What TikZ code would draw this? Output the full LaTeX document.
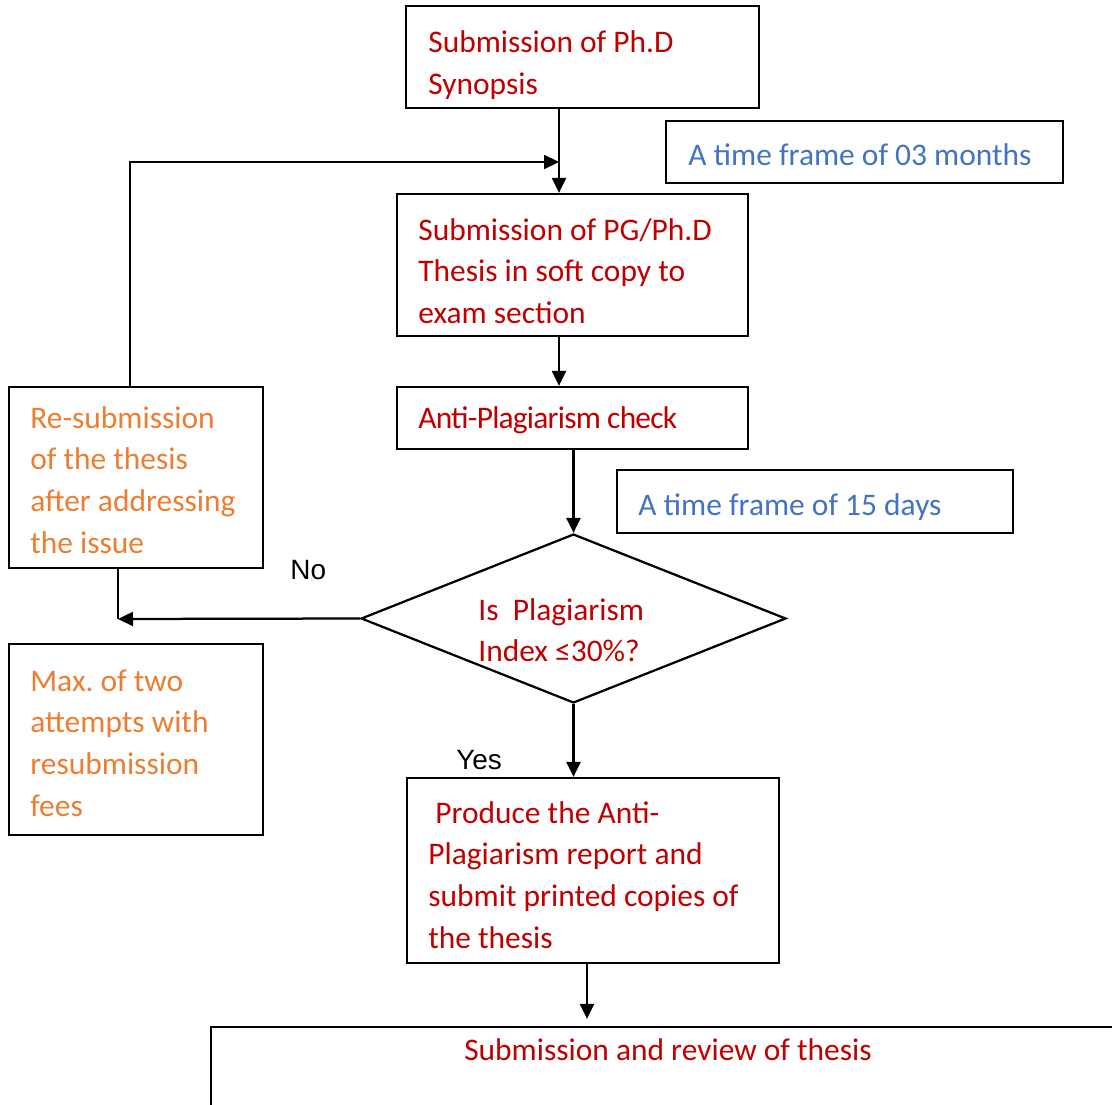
\documentclass[tikz,border=0pt]{standalone}
\usepackage{fontspec}
\setmainfont{Carlito}
\newfontfamily\arialfont{Liberation Sans}
\usetikzlibrary{arrows.meta,fit,shapes.geometric}
\definecolor{darkred}{HTML}{C00000}
\definecolor{orng}{HTML}{ED7D31}
\definecolor{blu}{HTML}{4472C4}
\frenchspacing
\tikzset{
	box/.style={draw, line width=0.45mm, inner sep=0pt},
	txt/.style={inner sep=0pt, anchor=base west, align=flush left, text width=9cm, font=\fontsize{17.9}{23.8}\selectfont},
	lbl/.style={inner sep=0pt, anchor=base west, font=\arialfont\fontsize{15.9}{19}\selectfont},
	arr/.style={line width=0.45mm, -{Triangle[length=3mm,width=2.8mm]}},
}

\begin{document}
\begin{tikzpicture}[x=0.02cm, y=-0.02cm]
		%%%%% START %%%%%
		\useasboundingbox (0,0) rectangle (1112,1105);
		\clip (0,0) rectangle (1112,1105);
		
		% main column
		\node[box, fit={(406,6) (759,108)}] (synopsis) {};
		\node[txt, text=darkred] (synopsistxt) at (428,53) {Submission of Ph.D\\Synopsis};
		
		\node[box, fit={(397,194) (748,336)}] (thesis) {};
		\node[txt, text=darkred] (thesistxt) at (418,240) {Submission of PG/Ph.D\\Thesis in soft copy to\\exam section};
		
		\node[box, fit={(397,387) (748,449)}] (check) {};
		\node[txt, text=darkred] (checktxt) at (418,428) {\addfontfeatures{LetterSpace=-2.5}Anti-Plagiarism check};
		
		\node[draw, diamond, line width=0.45mm, inner sep=0pt, minimum width=8.5cm, minimum height=3.38cm] (index) at (573.5,618.5) {};
		\node[txt, text=darkred] (indextxt) at (478,620) {Is\ \ Plagiarism\\Index ≤30\%?};
		
		\node[box, fit={(407,778) (779,963)}] (report) {};
		\node[txt, text=darkred] (reporttxt) at (428,823) {\hspace*{0.14cm}Produce the Anti-\\Plagiarism report and\\submit printed copies of\\the thesis};
		
		\node[box, fit={(211,1027) (1150,1150)}] (review) {};
		\node[txt, text=darkred, anchor=base, text width=] (reviewtxt) at (668,1060) {Submission and review of thesis};
		
		% time frames
		\node[box, fit={(666,121) (1063,183)}] (months) {};
		\node[txt, text=blu] (monthstxt) at (688,165) {A time frame of 03 months};
		
		\node[box, fit={(617,470) (1013,533)}] (days) {};
		\node[txt, text=blu] (daystxt) at (638,515) {A time frame of 15 days};
		
		% left side
		\node[box, fit={(9,387) (263,568)}] (resub) {};
		\node[txt, text=orng] (resubtxt) at (30,428) {Re-submission\\of the thesis\\after addressing\\the issue};
		
		\node[box, fit={(9,644) (263,835)}] (attempts) {};
		\node[txt, text=orng] (attemptstxt) at (30,691) {Max. of two\\attempts with\\resubmission\\fees};
		
		\node[lbl] (no) at (290,579) {No};
		\node[lbl] (yes) at (456,769) {Yes};
		
		% connectors
		\coordinate (upper) at (559,0);
		\coordinate (loop) at (130,162);
		\coordinate (join) at (118,619);
		\coordinate (lower) at (587,0);
		
		\draw[arr] (synopsis.south -| upper) -- (thesis.north -| upper);
		\draw[arr] (resub.north -| loop) -- (loop) -- (loop -| upper);
		\draw[arr] (thesis.south -| upper) -- (check.north -| upper);
		\draw[arr] (check.south -| index.north) -- (index.north);
		\draw[arr] (index.west) -- (join);
		\draw[line width=0.45mm] (resub.south -| join) -- (join);
		\draw[arr] (index.south) -- (report.north -| index.south);
		\draw[arr, shorten >=0.14cm] (report.south -| lower) -- (review.north -| lower);
		
		%%%%% END %%%%%
	\end{tikzpicture}
\end{document}
